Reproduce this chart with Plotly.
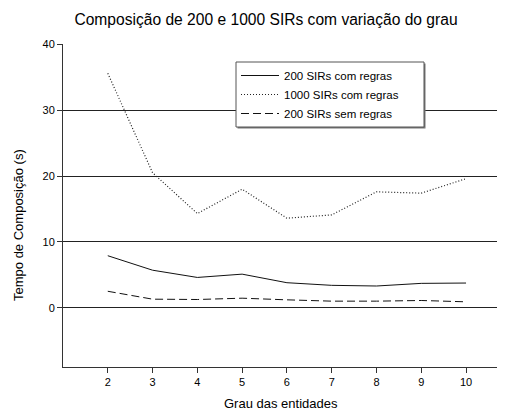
import plotly.graph_objects as go

grau = [2, 3, 4, 5, 6, 7, 8, 9, 10]
s200_com = [7.9, 5.7, 4.6, 5.1, 3.8, 3.4, 3.3, 3.7, 3.75]
s1000_com = [35.6, 20.5, 14.3, 18.0, 13.6, 14.1, 17.6, 17.4, 19.6]
s200_sem = [2.5, 1.3, 1.25, 1.45, 1.2, 1.0, 1.0, 1.1, 0.9]

names = ["200 SIRs com regras", "1000 SIRs com regras", "200 SIRs sem regras"]
y_ticks = [0, 10, 20, 30, 40]

FONT = "Arial, Liberation Sans, sans-serif"

# page has an 8px body margin; figure is offset by (8, 8)
OFF = 8
W, H = 505 - OFF, 417 - OFF
L, T, B = 63 - OFF, 44 - OFF, 417 - 367

fig = go.Figure()
fig.add_trace(go.Scatter(x=grau, y=s200_com, mode="lines", name=names[0],
                         line=dict(color="#111", width=1, dash="solid")))
fig.add_trace(go.Scatter(x=grau, y=s1000_com, mode="lines", name=names[1],
                         line=dict(color="#222", width=1.2, dash="1px,2px")))
fig.add_trace(go.Scatter(x=grau, y=s200_sem, mode="lines", name=names[2],
                         line=dict(color="#111", width=1, dash="8px,4px")))

pw, ph = 505 - 63, 367 - 44


def px_x(px):
    return (px - 63) / pw


def px_y(py):
    return (367 - py) / ph


shapes = [
    # legend shadow
    dict(type="rect", xref="paper", yref="paper", layer="above",
         x0=px_x(237.5), x1=px_x(425.5), y0=px_y(128.5), y1=px_y(63.5),
         fillcolor="#777", line=dict(width=0)),
    # legend box
    dict(type="rect", xref="paper", yref="paper", layer="above",
         x0=px_x(236), x1=px_x(424), y0=px_y(127), y1=px_y(62),
         fillcolor="white", line=dict(color="#555", width=1)),
]

fig.update_layout(
    width=W, height=H,
    margin=dict(l=L, r=0, t=T, b=B),
    paper_bgcolor="white", plot_bgcolor="white",
    font=dict(family=FONT, size=11, color="black"),
    title=dict(text="Composição de 200 e 1000 SIRs com variação do grau",
               x=(266 - OFF) / W, xref="container", xanchor="center",
               y=1 - (20 - OFF) / H, yref="container", yanchor="middle",
               font=dict(family=FONT, size=15.6, color="black")),
    showlegend=True,
    legend=dict(x=px_x(236), y=px_y(61), xanchor="left", yanchor="top",
                bgcolor="rgba(0,0,0,0)", borderwidth=0,
                font=dict(family=FONT, size=11.5, color="black"),
                tracegroupgap=0, itemwidth=38),
    shapes=shapes,
    xaxis=dict(range=[1, 10.87], tickvals=grau, ticks="outside", ticklen=5,
               tickcolor="#333", showgrid=False, zeroline=False,
               showline=True, linecolor="#333", linewidth=1,
               tickfont=dict(size=11)),
    yaxis=dict(range=[-9, 40.05], tickvals=y_ticks, ticks="outside", ticklen=5,
               tickcolor="#333", showgrid=True, gridcolor="#222", gridwidth=1,
               zeroline=False, showline=True, linecolor="#333", linewidth=1,
               tickfont=dict(size=11)),
    annotations=[
        dict(text="Tempo de Composição (s)", textangle=-90,
             x=px_x(18), y=px_y(225), xref="paper", yref="paper",
             xanchor="center", yanchor="middle",
             showarrow=False, font=dict(family=FONT, size=13)),
        dict(text="Grau das entidades", x=px_x(281), y=px_y(403),
             xref="paper", yref="paper", xanchor="center", yanchor="middle",
             showarrow=False, font=dict(family=FONT, size=13)),
    ],
)

fig.write_html("out.html", config={"displayModeBar": False})
